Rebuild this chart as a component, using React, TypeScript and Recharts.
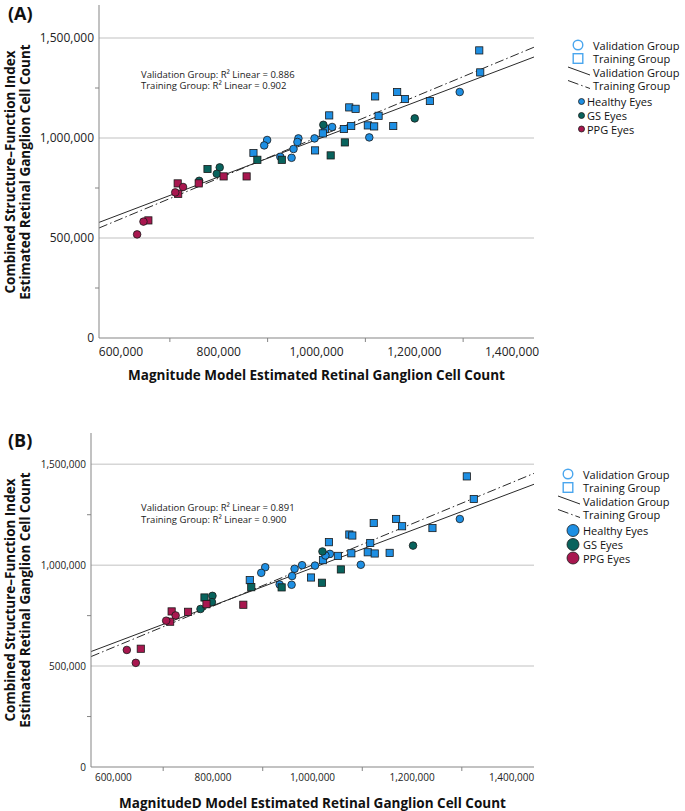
import { ScatterChart, Scatter, XAxis, YAxis, ReferenceLine } from "recharts";

type Pair = [number, number];

// ---- panel A (validation = circles, training = squares) ----
const aValHealthy: Pair[] = [
    [1293000, 1230000], [1032000, 1055000], [1108000, 1003000], [996000, 998000],
    [963000, 998000], [961000, 980000], [953000, 945000], [949000, 901000],
    [926000, 906000], [899000, 990000], [893000, 963000],
];
const aValGs: Pair[] = [
    [1014000, 1066000], [1201000, 1098000], [802000, 853000], [796000, 821000], [760000, 786000],
];
const aValPpg: Pair[] = [
    [727000, 755000], [711000, 728000], [646000, 582000], [633000, 518000],
];
const aTrainHealthy: Pair[] = [
    [1333000, 1438000], [1335000, 1328000], [1165000, 1230000], [1120000, 1208000],
    [1181000, 1195000], [1232000, 1185000], [1067000, 1153000], [1080000, 1146000],
    [1026000, 1113000], [1127000, 1111000], [1017000, 1046000], [1013000, 1023000],
    [1056000, 1045000], [1071000, 1060000], [1105000, 1063000], [1118000, 1058000],
    [1157000, 1060000], [997000, 938000], [871000, 925000],
];
const aTrainGs: Pair[] = [
    [1058000, 978000], [1029000, 913000], [879000, 891000], [929000, 891000], [777000, 845000],
];
const aTrainPpg: Pair[] = [
    [716000, 773000], [717000, 721000], [810000, 808000], [857000, 808000],
    [759000, 773000], [656000, 588000],
];
const aValFit: Pair[] = [[555000, 578000], [1445000, 1405000]];
const aTrainFit: Pair[] = [[555000, 550000], [1445000, 1454000]];

// ---- panel B ----
const bValHealthy: Pair[] = [
    [1296000, 1229000], [1035000, 1056000], [1026000, 1048000], [1097000, 1002000],
    [1005000, 998000], [979000, 1000000], [964000, 982000], [959000, 946000],
    [958000, 903000], [934000, 904000], [905000, 990000], [897000, 962000],
];
const bValGs: Pair[] = [
    [1020000, 1068000], [1202000, 1097000], [799000, 848000], [798000, 817000], [775000, 783000],
];
const bValPpg: Pair[] = [
    [725000, 751000], [706000, 725000], [627000, 580000], [645000, 516000],
];
const bTrainHealthy: Pair[] = [
    [1310000, 1440000], [1324000, 1328000], [1168000, 1229000], [1123000, 1209000],
    [1180000, 1193000], [1241000, 1184000], [1074000, 1152000], [1080000, 1147000],
    [1033000, 1114000], [1116000, 1110000], [1021000, 1025000], [1051000, 1046000],
    [1078000, 1059000], [1111000, 1064000], [1125000, 1058000], [1155000, 1061000],
    [997000, 939000], [874000, 926000],
];
const bTrainGs: Pair[] = [
    [1057000, 979000], [1019000, 913000], [877000, 891000], [938000, 890000], [783000, 840000],
];
const bTrainPpg: Pair[] = [
    [717000, 771000], [714000, 720000], [787000, 807000], [861000, 804000],
    [750000, 769000], [655000, 586000],
];
const bValFit: Pair[] = [[555000, 572000], [1445000, 1401000]];
const bTrainFit: Pair[] = [[555000, 547000], [1445000, 1455000]];

const xTicks = [600000, 700000, 800000, 900000, 1000000, 1100000, 1200000, 1300000, 1400000];
const yTicks = [0, 250000, 500000, 750000, 1000000, 1250000, 1500000];
const gridValues = [500000, 1000000, 1500000];

const HEALTHY = "#1e8fe3";
const GS = "#08635d";
const PPG = "#a8174f";
const AXIS = "#858585";
const FIT = "#2a2a2a";

const toPts = (arr: Pair[]) => arr.map(([x, y]) => ({ x, y }));

const dot = (fill: string) => (p: any) => (
    <circle cx={p.cx} cy={p.cy} r={3.8} fill={fill} stroke="#1a1a1a" strokeWidth={0.8} />
);
const box = (fill: string) => (p: any) => (
    <rect x={p.cx - 3.6} y={p.cy - 3.6} width={7.2} height={7.2} fill={fill} stroke="#1a1a1a" strokeWidth={0.8} />
);

const fmt = (v: number) => v.toLocaleString("en-US");

function YTick(props: any) {
    const { x, y, payload, fs } = props;
    const v = payload.value;
    if (v % 500000 !== 0) {
        return <line x1={x + 1} x2={x + 5} y1={y} y2={y} stroke={AXIS} />;
    }
    return (
        <text x={x} y={y} dy="0.35em" textAnchor="end" fontSize={fs} fill="#222">
            {fmt(v)}
        </text>
    );
}

function XTick(props: any) {
    const { x, y, payload, fs, gap } = props;
    const v = payload.value;
    if (v % 200000 !== 0) {
        return <line x1={x} x2={x} y1={y - gap - 4} y2={y - gap} stroke={AXIS} />;
    }
    return (
        <text x={x} y={y} dy="0.71em" textAnchor="middle" fontSize={fs} fill="#222">
            {fmt(v)}
        </text>
    );
}

type PanelProps = {
    top: number;
    height: number;
    marginTop: number;
    yAxisWidth: number;
    xAxisHeight: number;
    yMax: number;
    tickFont: number;
    xGap: number;
    titleOffset: number;
    xTitle: string;
    series: Pair[][];
    valFit: Pair[];
    trainFit: Pair[];
};

function Panel(p: PanelProps) {
    const [vh, vg, vp, th, tg, tp] = p.series;
    return (
        <div style={{ position: "absolute", left: 0, top: p.top }}>
            <ScatterChart
                width={685}
                height={p.height}
                margin={{ top: p.marginTop, right: 151, bottom: 0, left: 0 }}
            >
                <XAxis
                    type="number"
                    dataKey="x"
                    domain={[555000, 1445000]}
                    ticks={xTicks}
                    interval={0}
                    allowDataOverflow
                    height={p.xAxisHeight}
                    stroke={AXIS}
                    tickLine={false}
                    tickSize={4}
                    tickMargin={p.xGap - 4}
                    tick={<XTick fs={p.tickFont} gap={p.xGap - 4} />}
                    label={{
                        value: p.xTitle,
                        position: "insideBottom",
                        offset: p.titleOffset,
                        fontSize: 13.5,
                        fontWeight: 700,
                        fill: "#111",
                    }}
                />
                <YAxis
                    type="number"
                    dataKey="y"
                    domain={[0, p.yMax]}
                    ticks={yTicks}
                    interval={0}
                    allowDataOverflow
                    width={p.yAxisWidth}
                    stroke={AXIS}
                    tickLine={false}
                    tickSize={4}
                    tickMargin={1}
                    tick={<YTick fs={p.tickFont} />}
                />
                {gridValues.map((v) => (
                    <ReferenceLine key={v} y={v} stroke="#d6d6d6" strokeWidth={1.5} />
                ))}
                <ReferenceLine
                    segment={toPts(p.valFit)}
                    stroke={FIT}
                    strokeWidth={1}
                />
                <ReferenceLine
                    segment={toPts(p.trainFit)}
                    stroke={FIT}
                    strokeWidth={1}
                    strokeDasharray="9 3 1.5 3"
                />
                <Scatter data={toPts(th)} shape={box(HEALTHY)} isAnimationActive={false} />
                <Scatter data={toPts(vh)} shape={dot(HEALTHY)} isAnimationActive={false} />
                <Scatter data={toPts(tg)} shape={box(GS)} isAnimationActive={false} />
                <Scatter data={toPts(vg)} shape={dot(GS)} isAnimationActive={false} />
                <Scatter data={toPts(tp)} shape={box(PPG)} isAnimationActive={false} />
                <Scatter data={toPts(vp)} shape={dot(PPG)} isAnimationActive={false} />
            </ScatterChart>
        </div>
    );
}

function YTitle({ cy }: { cy: number }) {
    return (
        <g fontSize={13.5} fontWeight={700} fill="#111" textAnchor="middle">
            <text x={15} y={cy} transform={`rotate(-90 15 ${cy})`}>
                Combined Structure–Function Index
            </text>
            <text x={29.5} y={cy} transform={`rotate(-90 29.5 ${cy})`}>
                Estimated Retinal Ganglion Cell Count
            </text>
        </g>
    );
}

function Legend({ top, big, x0 }: { top: number; big: boolean; x0: number }) {
    const rows = [0, 13.5, 27, 40.5, 56.5, 70.5, 84];
    const tx = x0 + 15;
    const r = big ? 6 : 3;
    const cx = big ? x0 + 5 : x0 + 3.5;
    const ctx = big ? x0 + 15 : x0 + 9;
    return (
        <g fontSize={11} fill="#111" dominantBaseline="central">
            <circle cx={x0} cy={top + rows[0]} r={4.8} fill="none" stroke="#4aa6ee" strokeWidth={1.4} />
            <text x={tx} y={top + rows[0]}>Validation Group</text>
            <rect x={x0 - 4.8} y={top + rows[1] - 4.8} width={9.6} height={9.6} fill="none" stroke="#4aa6ee" strokeWidth={1.4} />
            <text x={tx} y={top + rows[1]}>Training Group</text>
            <line x1={x0 - 10} y1={top + rows[2] - 5} x2={x0 + 12} y2={top + rows[2] + 3} stroke={FIT} />
            <text x={tx} y={top + rows[2]}>Validation Group</text>
            <line x1={x0 - 10} y1={top + rows[3] - 5} x2={x0 + 12} y2={top + rows[3] + 3} stroke={FIT} strokeDasharray="11 3 1.5 3" />
            <text x={tx} y={top + rows[3]}>Training Group</text>
            {[HEALTHY, GS, PPG].map((c, i) => (
                <circle key={c} cx={cx} cy={top + rows[4 + i]} r={r} fill={c} stroke="#1a1a1a" strokeWidth={0.8} />
            ))}
            <text x={ctx} y={top + rows[4]}>Healthy Eyes</text>
            <text x={ctx} y={top + rows[5]}>GS Eyes</text>
            <text x={ctx} y={top + rows[6]}>PPG Eyes</text>
        </g>
    );
}

function Annotation({ x, y, a, b }: { x: number; y: number; a: string; b: string }) {
    return (
        <g fontSize={9.5} fill="#222" dominantBaseline="central">
            <text x={x} y={y}>{`Validation Group: R² Linear = ${a}`}</text>
            <text x={x} y={y + 11.5}>{`Training Group: R² Linear = ${b}`}</text>
        </g>
    );
}

export default function App() {
    return (
        <div
            style={{
                position: "absolute",
                left: 0,
                top: 0,
                width: 685,
                height: 811,
                background: "#fff",
                fontFamily: "'Open Sans', sans-serif",
            }}
        >
            <Panel
                top={0}
                height={400}
                marginTop={5}
                yAxisWidth={99}
                xAxisHeight={62}
                yMax={1665000}
                tickFont={12}
                xGap={9}
                titleOffset={20}
                xTitle="Magnitude Model Estimated Retinal Ganglion Cell Count"
                series={[aValHealthy, aValGs, aValPpg, aTrainHealthy, aTrainGs, aTrainPpg]}
                valFit={aValFit}
                trainFit={aTrainFit}
            />
            <Panel
                top={420}
                height={391}
                marginTop={13}
                yAxisWidth={91}
                xAxisHeight={44}
                yMax={1655000}
                tickFont={10}
                xGap={7}
                titleOffset={3}
                xTitle="MagnitudeD Model Estimated Retinal Ganglion Cell Count"
                series={[bValHealthy, bValGs, bValPpg, bTrainHealthy, bTrainGs, bTrainPpg]}
                valFit={bValFit}
                trainFit={bTrainFit}
            />
            <svg
                width={685}
                height={811}
                style={{ position: "absolute", left: 0, top: 0, pointerEvents: "none" }}
            >
                <text x={8} y={20} fontSize={18} fontWeight={700} fill="#111">(A)</text>
                <text x={8} y={447} fontSize={18} fontWeight={700} fill="#111">(B)</text>
                <YTitle cy={172} />
                <YTitle cy={600} />
                <Annotation x={141} y={74} a="0.886" b="0.902" />
                <Annotation x={141} y={507.5} a="0.891" b="0.900" />
                <Legend top={45} big={false} x0={578} />
                <Legend top={474} big={true} x0={568} />
            </svg>
        </div>
    );
}
